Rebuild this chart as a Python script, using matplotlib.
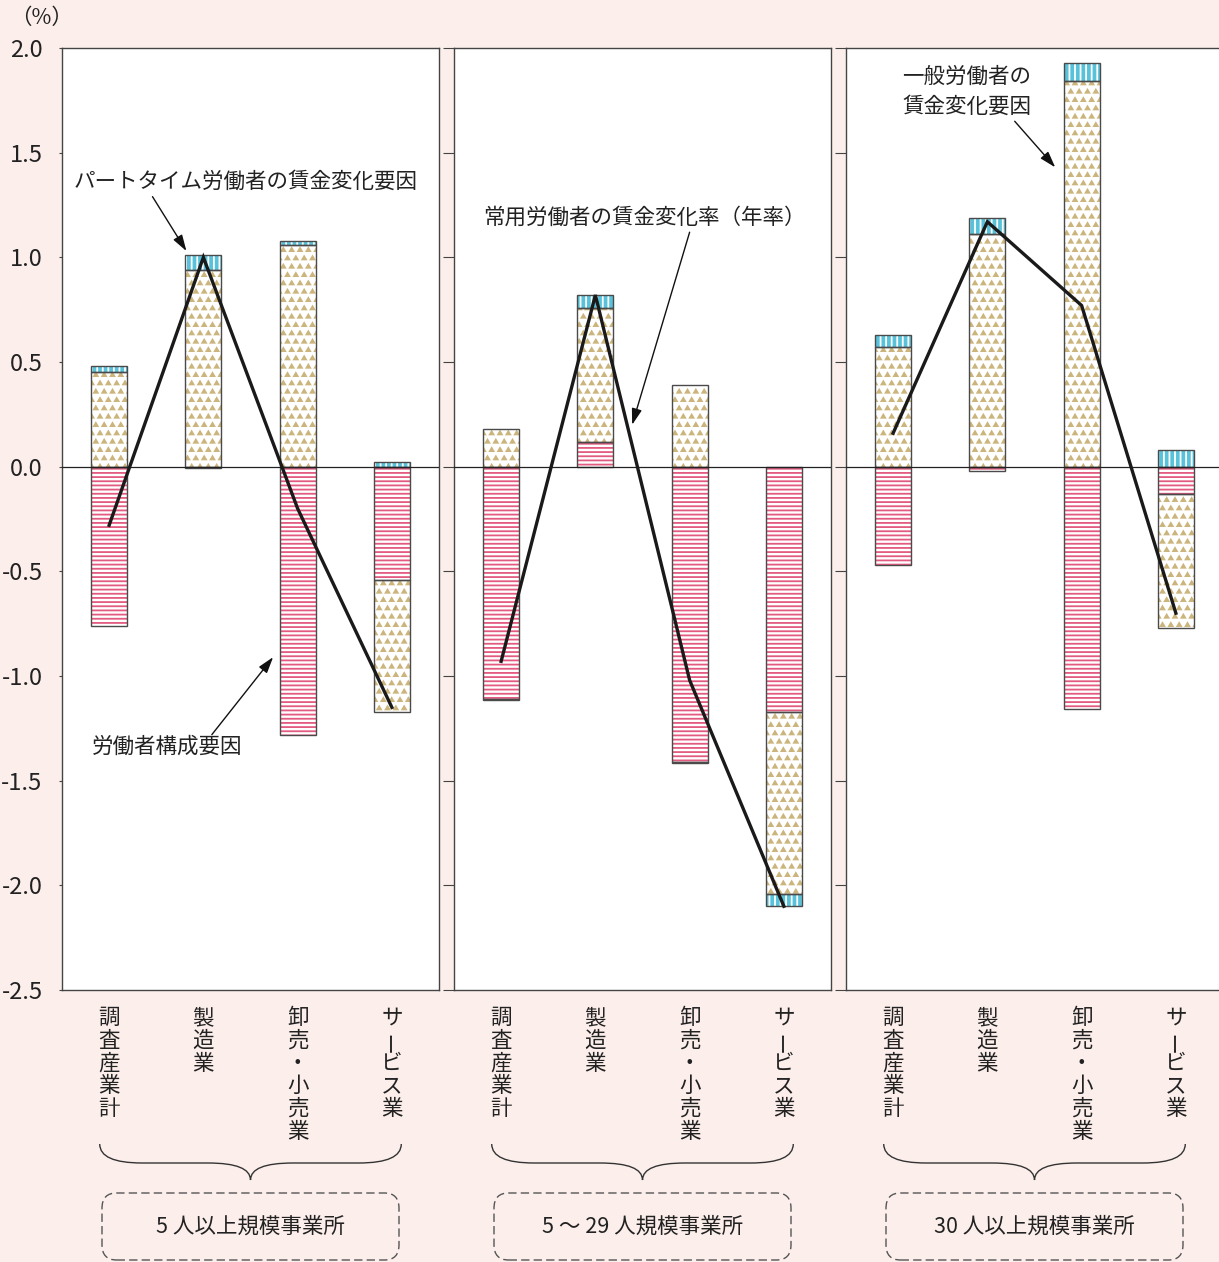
import numpy as np
import matplotlib
matplotlib.use('Agg')
import matplotlib.pyplot as plt
from matplotlib import hatch as mhatch
from matplotlib.path import Path
from matplotlib.patches import PathPatch, FancyBboxPatch
from matplotlib.transforms import blended_transform_factory

plt.rcParams['font.family'] = ['Noto Sans CJK JP', 'DejaVu Sans']
plt.rcParams['hatch.linewidth'] = 1.3

industries = ['調査産業計', '製造業', '卸売・小売業', 'サービス業']
groups = ['5 人以上規模事業所', '5 ～ 29 人規模事業所', '30 人以上規模事業所']

# contribution of each factor, % per year (rows: establishment size, cols: industry)
composition = [[-0.76, -0.005, -1.28, -0.54],
               [-1.11, 0.12, -1.41, -1.17],
               [-0.47, -0.02, -1.16, -0.13]]
general = [[0.45, 0.94, 1.06, -0.63],
           [0.18, 0.64, 0.39, -0.87],
           [0.57, 1.11, 1.84, -0.64]]
parttime = [[0.03, 0.07, 0.02, 0.02],
            [-0.005, 0.06, -0.005, -0.06],
            [0.06, 0.08, 0.09, 0.08]]
total = [[-0.28, 1.00, -0.20, -1.15],
         [-0.93, 0.82, -1.02, -2.10],
         [0.16, 1.17, 0.77, -0.70]]

yticks = [2.0, 1.5, 1.0, 0.5, 0.0, -0.5, -1.0, -1.5, -2.0, -2.5]


# small triangle texture, used in place of the '*' hatch
class Triangles(mhatch.Shapes):
    size = 0.22
    filled = True

    def __init__(self, hatch, density):
        self.num_rows = hatch.count('*') * density
        self.shape_vertices = np.array([[-1.0, -0.6], [1.0, -0.6], [0.0, 1.1], [-1.0, -0.6]])
        self.shape_codes = np.array([Path.MOVETO, Path.LINETO, Path.LINETO, Path.CLOSEPOLY],
                                    dtype=Path.code_type)
        super().__init__(hatch, density)


mhatch._hatch_types[-1] = Triangles

bg = '#fcefeb'
W, H = 1219, 1262
fig = plt.figure(figsize=(W / 100, H / 100), dpi=100, facecolor=bg)

lefts = [62, 454, 846]
pw = 377
top, bottom = 48, 990

styles = [
    dict(fc='white', hc='#e35a80', hatch='----'),   # 労働者構成要因
    dict(fc='white', hc='#ccb57c', hatch='**'),     # 一般労働者
    dict(fc='#58c2db', hc='white', hatch='|||'),    # パートタイム
]

x = np.arange(4)
bw = 0.38
axes = []
for g in range(3):
    ax = fig.add_axes([lefts[g] / W, 1 - bottom / H, pw / W, (bottom - top) / H])
    axes.append(ax)
    ax.set_xlim(-0.5, 3.5)
    ax.set_ylim(-2.5, 2.0)
    for s in ax.spines.values():
        s.set_color('#444444')
        s.set_linewidth(1.0)
    ax.set_xticks([])
    ax.set_yticks(yticks)
    if g == 0:
        ax.set_yticklabels(['%.1f' % v for v in yticks], fontsize=17, color='#222222')
        ax.tick_params(axis='y', length=2, pad=12, color='#444444')
    else:
        ax.set_yticklabels([])
        ax.tick_params(axis='y', length=8, direction='out', color='#444444')

    pos = np.zeros(4)
    neg = np.zeros(4)
    for comp, st in zip([composition[g], general[g], parttime[g]], styles):
        vals = np.array(comp)
        base = np.where(vals >= 0, pos, neg)
        ax.bar(x, vals, bw, bottom=base, color=st['fc'], edgecolor=st['hc'],
               hatch=st['hatch'], linewidth=0, zorder=2)
        ax.bar(x, vals, bw, bottom=base, fill=False, edgecolor='#4a4a4a',
               linewidth=1.0, zorder=3)
        pos = np.where(vals >= 0, pos + vals, pos)
        neg = np.where(vals < 0, neg + vals, neg)

    ax.axhline(0, color='#222222', lw=0.9, zorder=4)
    ax.plot(x, total[g], color='#1a1a1a', lw=2.4, zorder=5, solid_joinstyle='miter')

    # vertical category labels
    xt = ax.get_xaxis_transform()
    for i, name in enumerate(industries):
        for k, ch in enumerate(name):
            rot = 90 if ch == 'ー' else 0
            ax.annotate(ch, xy=(i, 0), xycoords=xt, xytext=(0, -28 - 22.75 * k),
                        textcoords='offset pixels', ha='center', va='center',
                        fontsize=15.5, color='#222222', rotation=rot,
                        annotation_clip=False)

    # curly brace under the labels
    bt = blended_transform_factory(ax.transData, fig.transFigure)
    x0, x1, xc, r = -0.1, 3.1, 1.5, 0.45
    yt, ym, yb = 1 - 1144 / H, 1 - 1163 / H, 1 - 1180 / H
    verts = [(x0, yt), (x0, ym), (x0 + r, ym), (xc - r, ym), (xc, ym), (xc, yb),
             (xc, ym), (xc + r, ym), (x1 - r, ym), (x1, ym), (x1, yt)]
    codes = [Path.MOVETO, Path.CURVE3, Path.CURVE3, Path.LINETO, Path.CURVE3, Path.CURVE3,
             Path.CURVE3, Path.CURVE3, Path.LINETO, Path.CURVE3, Path.CURVE3]
    fig.add_artist(PathPatch(Path(verts, codes), transform=bt, fill=False,
                             edgecolor='#333333', lw=1.0))

    # dashed group box
    bx0 = (lefts[g] + 40) / W
    bx1 = (lefts[g] + pw - 40) / W
    by0, by1 = 1 - 1260 / H, 1 - 1193 / H
    fig.add_artist(FancyBboxPatch((bx0, by0), bx1 - bx0, by1 - by0,
                                  boxstyle='round,pad=0,rounding_size=0.012',
                                  transform=fig.transFigure, fill=False,
                                  edgecolor='#555555', lw=1.0, linestyle=(0, (6, 3))))
    fig.text((bx0 + bx1) / 2, 1 - 1227 / H, groups[g], ha='center', va='center',
             fontsize=15.5, color='#222222')

fig.text(10 / W, 1 - 18 / H, '（%）', ha='left', va='center', fontsize=15.5, color='#222222')

arrow = dict(arrowstyle='-|>,head_length=0.7,head_width=0.22', color='#111111',
             lw=1.0, shrinkA=0, shrinkB=0, mutation_scale=14)

a1, a2, a3 = axes
a1.text(1.45, 1.36, 'パートタイム労働者の賃金変化要因', ha='center', va='center',
        fontsize=15.5, color='#222222', zorder=6)
a1.annotate('', xy=(0.82, 1.03), xytext=(0.46, 1.29), arrowprops=arrow, zorder=6)

a1.text(0.61, -1.34, '労働者構成要因', ha='center', va='center',
        fontsize=15.5, color='#222222', zorder=6)
a1.annotate('', xy=(1.74, -0.91), xytext=(1.09, -1.28), arrowprops=arrow, zorder=6)

a2.text(1.52, 1.19, '常用労働者の賃金変化率（年率）', ha='center', va='center',
        fontsize=15.5, color='#222222', zorder=6)
a2.annotate('', xy=(1.39, 0.20), xytext=(2.0, 1.12), arrowprops=arrow, zorder=6)

a3.text(0.78, 1.862, '一般労働者の', ha='center', va='center',
        fontsize=15.5, color='#222222', zorder=6)
a3.text(0.78, 1.719, '賃金変化要因', ha='center', va='center',
        fontsize=15.5, color='#222222', zorder=6)
a3.annotate('', xy=(1.72, 1.43), xytext=(1.29, 1.65), arrowprops=arrow, zorder=6)

fig.savefig('out.png', dpi=100, facecolor=bg)
